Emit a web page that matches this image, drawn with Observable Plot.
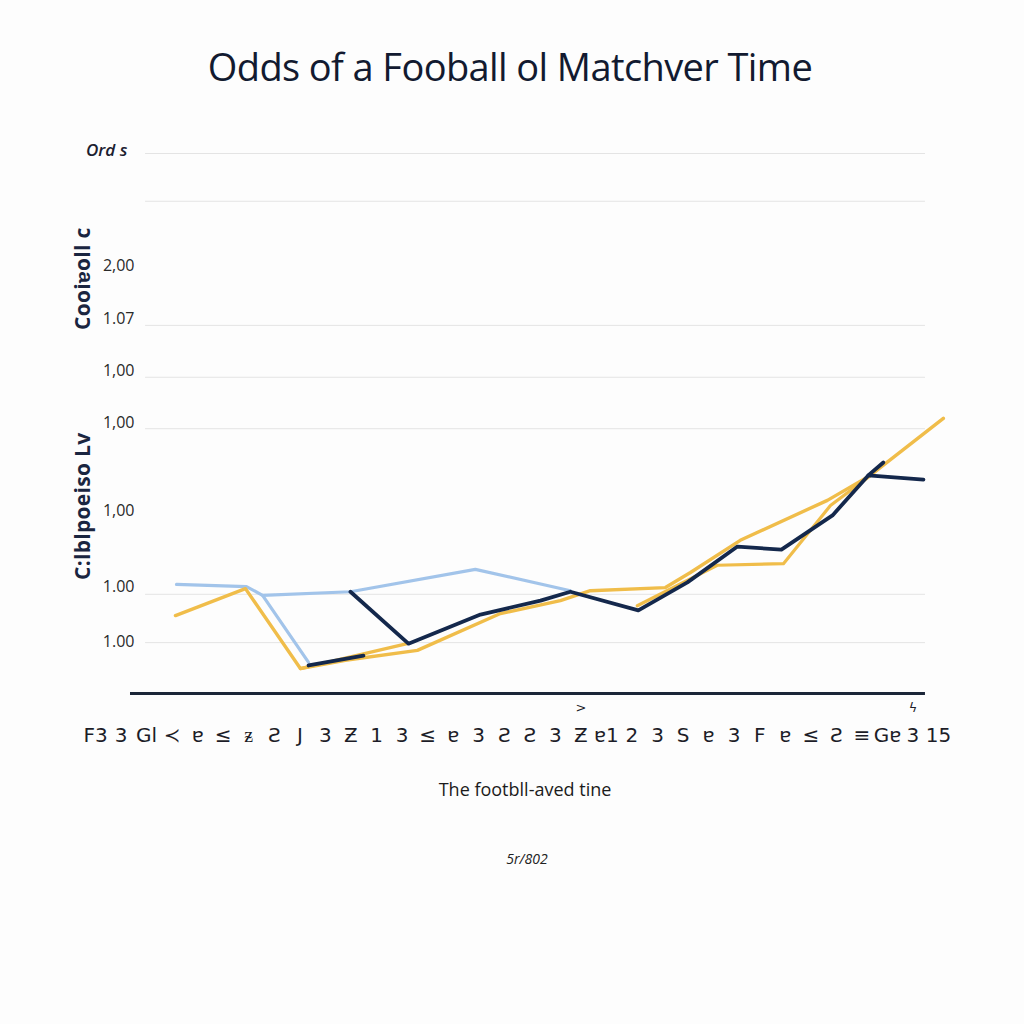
<!DOCTYPE html>
<html>
<head>
<meta charset="utf-8">
<script src="https://cdn.jsdelivr.net/npm/d3@7"></script>
<script src="https://cdn.jsdelivr.net/npm/@observablehq/plot@0.6"></script>
<style>
  html, body { margin: 0; padding: 0; background: #fdfdfd; width: 1024px; height: 1024px; overflow: hidden; }
  #wrap { position: relative; width: 1024px; height: 1024px; }
  .abs { position: absolute; white-space: nowrap; }
  #title { top: 40px; left: 0; width: 1020px; text-align: center; font-family: "Open Sans", sans-serif; font-size: 38px; font-weight: 500; color: #121a30; letter-spacing: -0.6px; }
  #ylab { top: 138px; left: 86px; font-family: "Open Sans", sans-serif; font-style: italic; font-weight: 600; font-size: 17px; color: #1b2030; }
  .rot { font-family: "Open Sans", sans-serif; font-weight: 700; font-size: 21px; color: #1a2540; transform-origin: 0 0; transform: rotate(-90deg); letter-spacing: 0.3px; }
  #chart { position: absolute; top: 120px; left: 0; }
  #xlab { top: 777px; left: 0; width: 1050px; text-align: center; font-family: "Open Sans", sans-serif; font-size: 18px; color: #1b1b1b; }
  #cap { top: 849px; left: 0; width: 1054px; text-align: center; font-family: "Open Sans", sans-serif; font-style: italic; font-size: 14px; color: #222; }
</style>
</head>
<body>
<div id="wrap">
  <div id="title" class="abs"></div>
  <div id="ylab" class="abs"></div>
  <div id="rot1" class="abs rot" style="left:68px; top:330px;"></div>
  <div id="rot2" class="abs rot" style="left:68px; top:580px;"></div>
  <div id="chart"></div>
  <div id="xlab" class="abs"></div>
  <div id="cap" class="abs"></div>
</div>
<script>
// ---- text ----
const titleText = "Odds of a Fooball ol Matchver Time";
const yAxisTitle = "Ord s";
const sideLabels = ["Cooiɐoll c", "C:lblpoeiso Lv"];
const xAxisTitle = "The footbll-aved tine";
const captionText = "5r/802";

// ---- x tick labels (index positions) ----
const xLabels = ["F3","3","Gl","≺","ɐ","≤","ᵶ","Ƨ","J","3","Ƶ","1","3","≤","ɐ","3","Ƨ","Ƨ","3","Ƶ","ɐ1","2","3","S","ɐ","3","F","ɐ","≤","Ƨ","≡","Gɐ","3","15"];
const caretTicks = [19, 32];
const caretMarks = [">", "ϟ"];

// ---- y ticks ----
const yLabelValues = [1.00, 2.06, 3.51, 5.22, 6.22, 7.22, 8.24];
const yLabelTexts  = ["1.00", "1.00", "1,00", "1,00", "1,00", "1.07", "2,00"];
const gridValues = [0.98, 1.91, 5.10, 6.09, 7.09, 9.48, 10.40];
const gridSpan = [1.96, 32.49];
const baseSpan = [1.37, 32.49];

// ---- series (t = time index, v = odds value) ----
const lightBlueMainT = [3.17, 5.91, 6.54, 9.98, 14.87, 18.59];
const lightBlueMainV = [2.10, 2.06, 1.89, 1.96, 2.39, 1.98];
const lightBlueDropT = [6.54, 8.34];
const lightBlueDropV = [1.89, 0.60];

const yellowAT = [3.13, 5.87, 8.02, 9.78, 12.60, 15.85, 18.20, 19.37, 22.31, 23.29, 25.24, 28.65, 30.33, 33.19];
const yellowAV = [1.50, 2.02, 0.48, 0.64, 0.83, 1.54, 1.79, 1.98, 2.04, 2.33, 2.95, 3.72, 4.20, 5.30];
const yellowBT = [8.02, 12.20];
const yellowBV = [0.48, 0.96];
const yellowCT = [21.21, 24.34, 26.93, 28.77, 30.45];
const yellowCV = [1.69, 2.47, 2.50, 3.62, 4.24];

const navyLowT = [8.34, 10.49];
const navyLowV = [0.54, 0.73];
const navyMainT = [9.98, 12.25, 15.07, 17.42, 18.59, 21.25, 23.17, 25.13, 26.85, 28.85, 30.25, 32.41];
const navyMainV = [1.96, 0.96, 1.52, 1.79, 1.96, 1.60, 2.14, 2.83, 2.77, 3.43, 4.20, 4.12];
const navySpurT = [30.25, 30.84];
const navySpurV = [4.20, 4.45];

const colors = { lightBlue: "#a2c4ea", yellow: "#f0bd4a", navy: "#14284c" };

function rows(ts, vs, id) { return ts.map((t, i) => ({ t, v: vs[i], id })); }

const lightBlue = [...rows(lightBlueMainT, lightBlueMainV, "lb1"), ...rows(lightBlueDropT, lightBlueDropV, "lb2")];
const yellowExtra = [...rows(yellowBT, yellowBV, "y2"), ...rows(yellowCT, yellowCV, "y3")];
const yellowA = rows(yellowAT, yellowAV, "y1");
const navy = [...rows(navyLowT, navyLowV, "n1"), ...rows(navyMainT, navyMainV, "n2"), ...rows(navySpurT, navySpurV, "n3")];

document.getElementById("title").textContent = titleText;
document.getElementById("ylab").textContent = yAxisTitle;
document.getElementById("rot1").textContent = sideLabels[0];
document.getElementById("rot2").textContent = sideLabels[1];
document.getElementById("xlab").textContent = xAxisTitle;
document.getElementById("cap").textContent = captionText;

const xTicks = xLabels.map((_, i) => i);

const chart = Plot.plot({
  width: 1024,
  height: 700,
  marginLeft: 95,
  marginRight: 86,
  marginTop: 33,
  marginBottom: 127,
  style: { background: "transparent", overflow: "visible" },
  x: { domain: [0, 33] },
  y: { domain: [0, 10.4] },
  marks: [
    Plot.ruleY(gridValues, { x1: gridSpan[0], x2: gridSpan[1], stroke: "#e4e4e4", strokeWidth: 1 }),
    Plot.axisY({ ticks: yLabelValues, tickFormat: (d, i) => yLabelTexts[i], tickSize: 0, dx: 48, fontSize: 16, fill: "#2a2a2a", label: null, fontFamily: "Open Sans" }),
    Plot.axisX({ ticks: xTicks, tickFormat: (d) => xLabels[d], tickSize: 0, tickPadding: 34, fontSize: 20, fill: "#1d1d28", label: null, fontFamily: "DejaVu Sans" }),
    Plot.text(caretTicks, { x: d => d, y: 0, text: (d, i) => caretMarks[i], dy: 14, fontSize: 13, fill: "#1d1d28", fontFamily: "DejaVu Sans" }),
    Plot.line(lightBlue, { x: "t", y: "v", z: "id", stroke: colors.lightBlue, strokeWidth: 3.2 }),
    Plot.line(yellowExtra, { x: "t", y: "v", z: "id", stroke: colors.yellow, strokeWidth: 3.2 }),
    Plot.line(yellowA, { x: "t", y: "v", z: "id", stroke: colors.yellow, strokeWidth: 3.4 }),
    Plot.line(navy, { x: "t", y: "v", z: "id", stroke: colors.navy, strokeWidth: 3.8 }),
    Plot.ruleY([0], { x1: baseSpan[0], x2: baseSpan[1], stroke: "#1b2638", strokeWidth: 3 })
  ]
});
document.getElementById("chart").appendChild(chart);
</script>
</body>
</html>
